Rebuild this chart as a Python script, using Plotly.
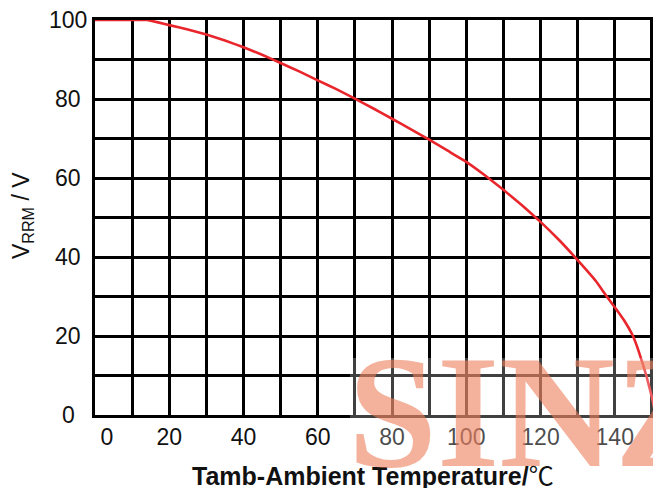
import plotly.graph_objects as go

# Data
temp = [0, 5, 10, 14, 17, 20, 25, 30, 35, 40, 45, 50, 55, 60, 65, 70, 75, 80, 85, 90,
        95, 100, 105, 110, 115, 120, 125, 130, 135, 137.7, 140, 142.5, 144.9, 146.5, 148.5,
        150, 151]
vrrm = [100, 100, 100, 100, 99.4, 98.7, 97.6, 96.3, 94.8, 93.1, 91.2, 89.1, 87.0, 84.7,
        82.5, 80.1, 77.6, 75.0, 72.4, 69.7, 66.9, 64.1, 60.7, 57.0, 53.1, 48.9, 44.3,
        39.2, 33.8, 30.2, 27.3, 24.0, 20.0, 16.0, 10.0, 4.5, 0]

x_tick_vals = [3.2, 20, 40, 60, 80, 100, 120, 140]
x_tick_text = ["0", "20", "40", "60", "80", "100", "120", "140"]
y_tick_vals = [0, 20, 40, 60, 80, 100]
y_tick_text = ["0", "20", "40", "60", "80", "100"]

W, H = 653, 488
PL, PR, PT, PB = 95, 653, 20, 415          # plot area in pixels
ML, MT, MR, MB = PL, PT, W - PR, H - PB
PW = PR - PL
PH = PB - PT


def px(xw):
    return (xw - PL) / PW


def py(yw):
    return (PB - yw) / PH


fig = go.Figure()
fig.add_trace(go.Scatter(x=temp, y=vrrm, mode="lines",
                         line=dict(color="#E8262C", width=2.6, shape="spline", smoothing=0.3),
                         hoverinfo="skip", showlegend=False))

fig.update_layout(
    width=W, height=H,
    margin=dict(l=ML, r=MR, t=MT, b=MB, pad=0),
    paper_bgcolor="white", plot_bgcolor="white",
    font=dict(family="Liberation Sans, Arial", color="#111"),
    xaxis=dict(range=[0, 150.3], tickvals=x_tick_vals, ticktext=x_tick_text,
               showgrid=False, zeroline=False, ticks="",
               showline=True, linecolor="black", linewidth=2.5, mirror=True,
               tickfont=dict(size=23, color="#111"),
               minor=dict(dtick=10, tick0=0, showgrid=True, gridcolor="black", gridwidth=2.5)),
    yaxis=dict(range=[0, 100], dtick=10, showgrid=True, gridcolor="black", gridwidth=2.5,
               zeroline=False, ticks="", showticklabels=False,
               showline=True, linecolor="black", linewidth=2.5),
)

ann = []
for v, t in zip(y_tick_vals, y_tick_text):
    ann.append(dict(x=px(68), y=v / 100, xref="paper", yref="paper",
                    text=t, showarrow=False, xanchor="center", yanchor="middle",
                    font=dict(size=23, color="#111")))
ann.append(dict(x=px(22), y=py(215), xref="paper", yref="paper",
                text="V<sub>RRM</sub> / V", textangle=-90, showarrow=False,
                xanchor="center", yanchor="middle", font=dict(size=23, color="#111")))
ann.append(dict(x=px(373), y=py(474), xref="paper", yref="paper",
                text="<b>Tamb-Ambient Temperature/</b><span style='font-family:Noto Sans CJK SC'>℃</span>",
                showarrow=False, xanchor="center", yanchor="middle",
                font=dict(size=25, color="#111")))
# watermark
ann.append(dict(x=px(346), y=py(503), xref="paper", yref="paper",
                text="<b>SINZ</b>", showarrow=False, xanchor="left", yanchor="bottom",
                font=dict(size=160, family="Liberation Serif", color="#EE7E5C"),
                opacity=0.6))
fig.update_layout(annotations=ann)

fig.add_shape(type="rect", xref="paper", yref="paper",
              x0=px(350), x1=1.0, y0=py(465), y1=py(358),
              fillcolor="rgba(255,255,255,0.25)", line=dict(width=0), layer="above")

fig.write_html("out.html", config={"displayModeBar": False},
               post_script="document.body.style.margin='0';document.body.style.overflow='hidden';")
